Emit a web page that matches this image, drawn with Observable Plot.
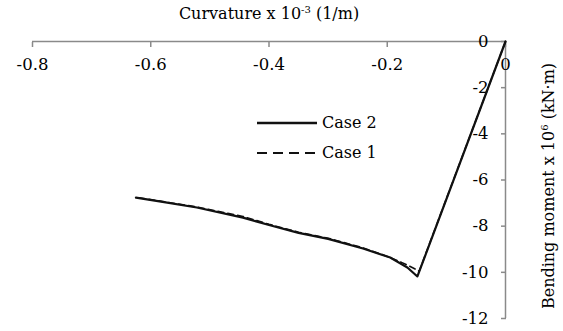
<!DOCTYPE html>
<html>
<head>
<meta charset="utf-8">
<script src="https://cdn.jsdelivr.net/npm/d3@7"></script>
<script src="https://cdn.jsdelivr.net/npm/@observablehq/plot@0.6"></script>
<style>
  html, body { margin: 0; padding: 0; background: #fff; }
  #wrap { position: relative; width: 563px; height: 331px; font-family: "DejaVu Serif", serif; color: #000; }
  #wrap svg { position: absolute; left: 0; top: 0; }
  #wrap svg text { font-family: "DejaVu Serif", serif !important; font-size: 16.5px !important; }
  .title { position: absolute; left: 0; width: 538px; top: 4px; text-align: center; font-size: 16px; line-height: 20px; }
  .ylab { position: absolute; left: 549px; top: 186px; font-size: 16px; line-height: 20px; white-space: nowrap; transform: translate(-50%, -50%) rotate(-90deg); }
  sup { font-size: 10px; vertical-align: 6px; line-height: 0; }
  .leg { position: absolute; font-size: 16px; line-height: 22px; display: flex; align-items: center; }
  .leg svg { position: static !important; margin-right: 5px; }
</style>
</head>
<body>
<div id="wrap"></div>
<script>
// Case 2 (solid)
const case2X = [0, -0.149, -0.166, -0.195, -0.241, -0.300, -0.350, -0.400, -0.444, -0.522, -0.580, -0.625];
const case2Y = [0, -10.18, -9.79, -9.36, -8.97, -8.55, -8.29, -7.95, -7.63, -7.19, -6.95, -6.76];
// Case 1 (dashed)
const case1X = [0, -0.146, -0.157, -0.175, -0.200, -0.241, -0.300, -0.350, -0.400, -0.444, -0.522, -0.580, -0.625];
const case1Y = [0, -9.95, -9.80, -9.58, -9.31, -8.94, -8.52, -8.26, -7.92, -7.58, -7.17, -6.93, -6.75];
const xTicks = [-0.8, -0.6, -0.4, -0.2, 0];
const yTicks = [0, -2, -4, -6, -8, -10, -12];
const xTickLabels = ["-0.8", "-0.6", "-0.4", "-0.2", "0"];
const yTickLabels = ["0", "-2", "-4", "-6", "-8", "-10", "-12"];

const case1 = case1X.map((x, i) => ({x, y: case1Y[i]}));
const case2 = case2X.map((x, i) => ({x, y: case2Y[i]}));

const serif = "'DejaVu Serif', serif";

const chart = Plot.plot({
  width: 563,
  height: 331,
  marginLeft: 32,
  marginRight: 58,
  marginTop: 41,
  marginBottom: 13,
  x: {domain: [-0.8, 0]},
  y: {domain: [-12, 0]},
  style: {fontFamily: serif, fontSize: "16.5px", color: "#000", background: "transparent"},
  marks: [
    Plot.ruleY([0], {stroke: "#8a8a8a", strokeWidth: 1.5}),
    Plot.ruleX([0], {stroke: "#8a8a8a", strokeWidth: 1.5}),
    Plot.axisX(xTicks, {anchor: "top", tickSize: -5, tickPadding: -12, lineAnchor: "top", stroke: "#8a8a8a", fill: "#000", strokeWidth: 1.5, fontSize: 16.5, label: null, tickFormat: d => xTickLabels[xTicks.indexOf(d)]}),
    Plot.axisY(yTicks, {anchor: "right", tickSize: -5, tickPadding: -12, textAnchor: "end", stroke: "#8a8a8a", fill: "#000", strokeWidth: 1.5, fontSize: 16.5, label: null, tickFormat: d => yTickLabels[yTicks.indexOf(d)]}),
    Plot.line(case1, {x: "x", y: "y", stroke: "#111", strokeWidth: 1.6, strokeDasharray: "6,4"}),
    Plot.line(case2, {x: "x", y: "y", stroke: "#111", strokeWidth: 2.2})
  ]
});

const wrap = document.getElementById("wrap");
wrap.appendChild(chart);

const title = document.createElement("div");
title.className = "title";
title.innerHTML = "Curvature x 10<sup>-3</sup> (1/m)";
wrap.appendChild(title);

const ylab = document.createElement("div");
ylab.className = "ylab";
ylab.innerHTML = "Bending moment x 10<sup>6</sup> (kN·m)";
wrap.appendChild(ylab);

const legendItems = [
  {label: "Case 2", dash: null, top: 112},
  {label: "Case 1", dash: "10,6", top: 142}
];
for (const it of legendItems) {
  const d = document.createElement("div");
  d.className = "leg";
  d.style.left = "257px";
  d.style.top = it.top + "px";
  d.innerHTML = `<svg width="60" height="22"><line x1="0" x2="60" y1="11" y2="11" stroke="#111" stroke-width="${it.dash ? 1.8 : 2.4}" ${it.dash ? `stroke-dasharray="${it.dash}"` : ""}/></svg><span>${it.label}</span>`;
  wrap.appendChild(d);
}
</script>
</body>
</html>
